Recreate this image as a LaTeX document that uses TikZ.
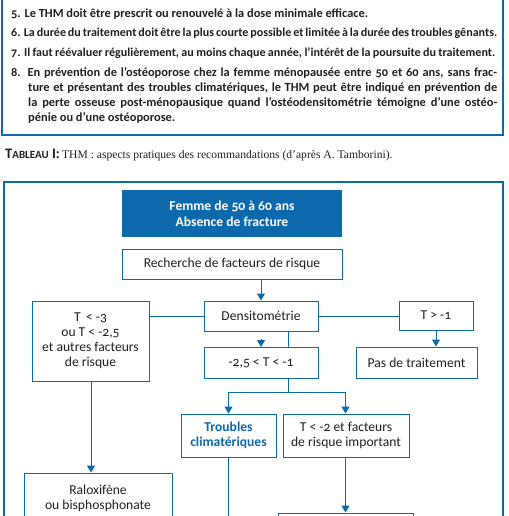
\documentclass[tikz,border=0pt]{standalone}
\usepackage{fontspec}
\setmainfont{Carlito}[Numbers=OldStyle]
\newfontfamily\capserif{Liberation Serif}
\usetikzlibrary{arrows.meta}
\definecolor{myblue}{RGB}{12,106,172}
\definecolor{mytext}{RGB}{35,31,32}
\newcommand{\toptxt}{\fontsize{12.4}{14}\selectfont\bfseries}
\newcommand{\toptxtn}{\fontsize{12.05}{14}\selectfont\bfseries}
\newcommand{\flowtxt}{\fontsize{13.6}{15}\selectfont}
\tikzset{
  frame/.style={draw=myblue, line width=1.3pt},
  box/.style={draw=myblue, line width=1pt, fill=white, text=mytext, align=center, inner sep=0pt, font=\flowtxt},
  headbox/.style={fill=myblue, text=white, align=center, inner sep=0pt, font=\fontsize{13.6}{16}\selectfont\bfseries},
  conn/.style={draw=myblue, line width=1pt},
  arr/.style={conn, -{Triangle[width=8pt,length=7pt]}},
  line/.style={anchor=west, inner sep=0pt, text=mytext, font=\toptxt},
}
\begin{document}
\begin{tikzpicture}[x=1pt,y=-1pt]
\useasboundingbox (0,0) rectangle (508,516);
\clip (0,0) rectangle (508,516);
% top text box
\draw[frame] (2,-10) rectangle (503,135);
\node[line] (l5) at (11,14) {5. Le THM doit être prescrit ou renouvelé à la dose minimale efficace.};
\node[line, font=\toptxtn] (l6) at (11,33) {\makebox[486pt][s]{6. La durée du traitement doit être la plus courte possible et limitée à la durée des troubles gênants.}};
\node[line, font=\toptxtn] (l7) at (11,53) {\makebox[484pt][s]{7. Il faut réévaluer régulièrement, au moins chaque année, l’intérêt de la poursuite du traitement.}};
\node[line] (l8a) at (11,73) {\makebox[486pt][s]{8. En prévention de l’ostéoporose chez la femme ménopausée entre 50 et 60 ans, sans frac-}};
\node[line] (l8b) at (28,88) {\makebox[469pt][s]{ture et présentant des troubles climatériques, le THM peut être indiqué en prévention de}};
\node[line] (l8c) at (28,103) {\makebox[469pt][s]{la perte osseuse post-ménopausique quand l’ostéodensitométrie témoigne d’une ostéo-}};
\node[line] (l8d) at (28,118) {pénie ou d’une ostéoporose.};
% caption
\node[anchor=west, inner sep=0pt, text=mytext] (cap) at (5,155) {{\fontsize{14.5}{16}\selectfont\bfseries T{\fontsize{11}{12}\selectfont ABLEAU} I:} {\capserif\fontsize{11.6}{14}\selectfont THM : aspects pratiques des recommandations (d’après A. Tamborini).}};
% flowchart frame
\draw[frame] (4,182) rectangle (503,560);
% nodes
\node[headbox, minimum width=220pt, minimum height=47pt] (head) at (232,213.5) {Femme de 50 à 60 ans\\Absence de fracture};
\node[box, minimum width=220pt, minimum height=30pt] (rech) at (232,264) {Recherche de facteurs de risque};
\node[box, minimum width=114pt, minimum height=30pt] (dens) at (261,316) {Densitométrie};
\node[box, minimum width=117pt, minimum height=80pt] (left) at (90.5,341) {T\, < -3\\ou T < -2,5\\et autres facteurs\\de risque};
\node[box, minimum width=74pt, minimum height=29pt] (tgt) at (436,315.5) {T > -1};
\node[box, minimum width=121pt, minimum height=31pt] (pas) at (416.5,362.5) {Pas de traitement};
\node[box, minimum width=114pt, minimum height=31pt] (mid) at (261,363) {-2,5 < T < -1};
\node[box, minimum width=95pt, minimum height=43pt, text=myblue, font=\flowtxt\bfseries] (trb) at (228.5,435.5) {Troubles\\climatériques};
\node[box, minimum width=126pt, minimum height=43pt] (t2) at (346,435.5) {T < -2 et facteurs\\de risque important};
\node[box, minimum width=148pt, minimum height=51pt] (ralox) at (98,498.5) {Raloxifène\\ou bisphosphonate};
\node[box, minimum width=135pt, minimum height=50pt] (bot) at (345.5,538) {};
\coordinate (offa) at (229,560);
\coordinate (split) at (288,392);
% connectors
\draw[arr] (rech.south -| dens.north) -- (dens.north);
\draw[conn] (left.east |- dens.west) -- (dens.west);
\draw[conn] (dens.east) -- (tgt.west |- dens.east);
\draw[arr] (tgt.south) -- (tgt.south |- pas.north);
\draw[conn] (dens.south -| split) -- (mid.north -| split);
\draw[arr] ([yshift=8pt]mid.north) -- (mid.north);
\draw[conn] (mid.south -| split) -- (split);
\draw[arr] (split) -| (trb.north);
\draw[arr] (split) -| (t2.north -| bot.north);
\draw[arr] (left.south -| 91,0) -- (ralox.north -| 91,0);
\draw[arr] (t2.south -| bot.north) -- (bot.north);
\draw[conn] (trb.south) -- (trb.south |- offa);
\end{tikzpicture}
\end{document}
